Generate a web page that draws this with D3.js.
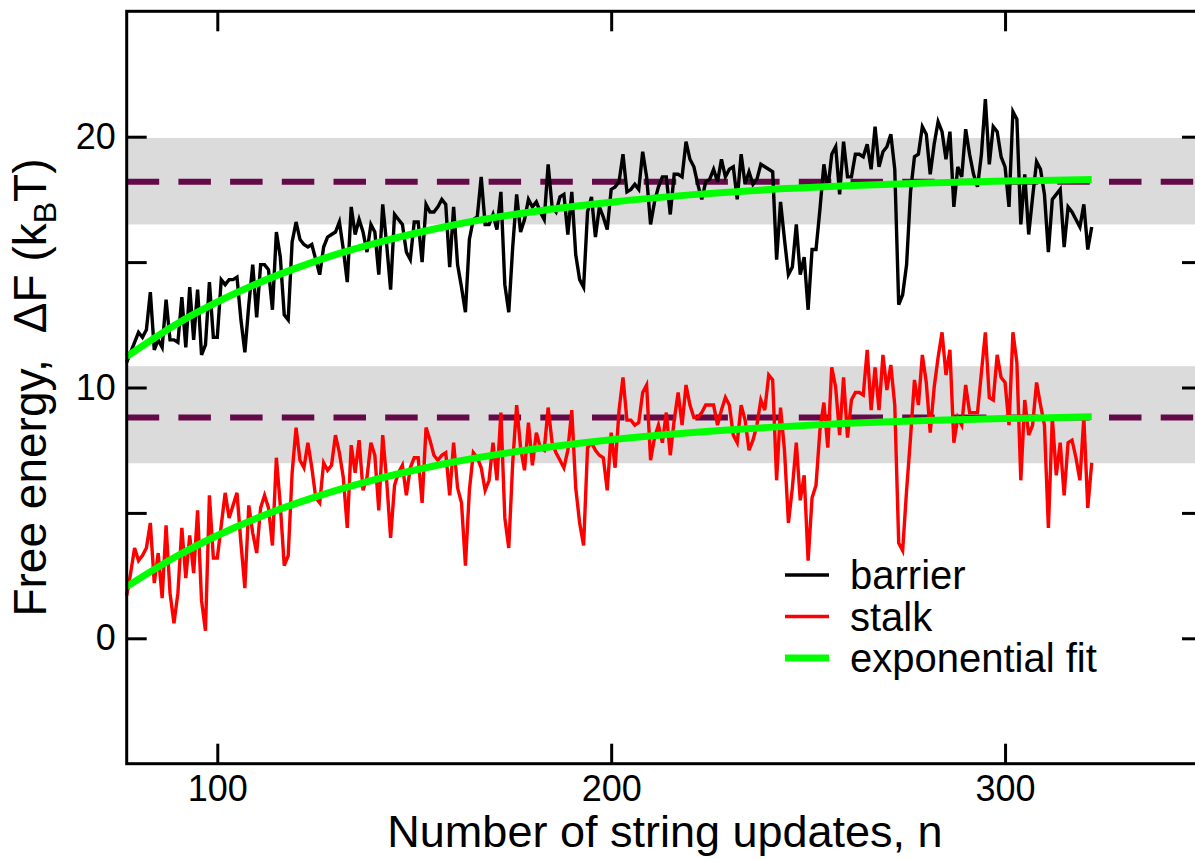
<!DOCTYPE html>
<html>
<head>
<meta charset="utf-8">
<script src="https://cdn.jsdelivr.net/npm/d3@7"></script>
<style>
  html, body { margin: 0; padding: 0; background: #fff; }
  svg { display: block; font-family: "Liberation Sans", Arial, Helvetica, sans-serif; }
</style>
</head>
<body>
<svg id="chart" width="1195" height="859"></svg>
<script>
// Free energy of the barrier and the stalk along the string-method iterations.
const firstUpdate = 77;

const barrier = [
  11.0, 11.4, 11.8, 12.2, 12.0, 12.3, 13.8, 11.5, 11.9, 11.6,
  13.5, 11.9, 11.9, 11.8, 13.6, 11.6, 14.0, 11.9, 13.9, 11.3,
  11.7, 14.2, 12.0, 12.0, 14.3, 14.1, 14.3, 14.3, 14.4, 12.7,
  11.4, 13.3, 14.9, 12.8, 14.9, 14.9, 14.7, 13.1, 16.2, 15.2,
  12.9, 12.7, 15.8, 16.6, 15.9, 15.7, 15.6, 15.7, 15.1, 14.5,
  15.6, 16.0, 16.1, 16.2, 16.6, 15.5, 14.2, 17.2, 16.1, 16.7,
  16.2, 15.4, 16.5, 16.2, 14.5, 17.3, 15.7, 13.9, 16.9, 16.7,
  16.5, 15.4, 15.1, 16.6, 16.6, 15.0, 17.3, 17.0, 17.0, 17.2,
  17.5, 17.3, 14.8, 17.2, 14.9, 14.0, 13.0, 15.9, 16.7, 16.8,
  18.4, 16.5, 16.5, 16.9, 16.3, 17.8, 14.1, 13.0, 15.6, 17.7,
  16.2, 16.7, 17.5, 17.2, 17.4, 17.0, 16.7, 18.9, 17.2, 17.0,
  17.6, 17.7, 16.1, 17.8, 15.3, 14.3, 14.0, 17.0, 17.6, 16.0,
  17.2, 16.8, 16.3, 17.9, 18.0, 18.2, 19.3, 17.8, 17.9, 18.1,
  17.9, 19.4, 18.4, 16.5, 17.4, 18.0, 18.4, 18.4, 16.9, 18.5,
  18.5, 18.4, 19.8, 19.1, 18.8, 18.1, 17.5, 18.2, 18.3, 18.7,
  18.2, 19.1, 18.4, 18.7, 18.8, 17.5, 19.3, 18.1, 18.6, 18.1,
  18.3, 18.9, 18.8, 18.7, 18.6, 15.1, 17.4, 15.9, 14.5, 14.8,
  16.5, 14.5, 15.2, 13.1, 15.5, 15.5, 17.1, 18.9, 17.9, 19.3,
  19.6, 17.7, 19.8, 18.4, 18.4, 19.3, 19.3, 19.2, 19.7, 18.7,
  20.4, 18.8, 19.4, 19.6, 20.1, 18.7, 13.3, 13.7, 14.9, 17.8,
  19.2, 19.3, 20.4, 20.1, 18.5, 19.7, 20.6, 20.2, 19.1, 20.2,
  17.2, 18.8, 18.4, 20.3, 19.3, 18.5, 18.0, 19.3, 21.5, 18.9,
  20.4, 20.2, 19.2, 18.8, 17.2, 21.0, 20.7, 16.5, 18.5, 16.1,
  17.6, 19.0, 18.7, 17.7, 15.4, 17.5, 17.7, 17.9, 15.6, 17.2,
  17.0, 16.7, 16.4, 17.3, 15.5, 16.4
];

const stalk = [
  1.7, 2.6, 3.6, 3.1, 3.3, 3.6, 4.6, 2.2, 3.4, 1.6,
  4.5, 1.8, 0.6, 1.8, 4.4, 2.4, 4.1, 2.6, 5.1, 1.5,
  0.3, 5.7, 3.2, 3.2, 4.5, 5.8, 4.8, 5.3, 5.8, 3.8,
  2.0, 5.3, 4.2, 3.4, 5.2, 5.7, 5.2, 3.7, 7.2, 5.3,
  2.9, 3.3, 6.6, 8.4, 7.1, 6.8, 7.8, 6.8, 5.6, 5.4,
  7.0, 6.7, 6.9, 8.1, 7.4, 6.4, 4.4, 7.7, 6.6, 7.9,
  5.9, 6.4, 7.8, 7.3, 5.1, 8.1, 6.3, 4.0, 6.1, 6.6,
  6.9, 5.7, 6.8, 7.2, 7.2, 5.4, 8.4, 7.9, 7.3, 7.1,
  7.3, 7.4, 5.7, 7.8, 6.0, 5.4, 2.9, 5.9, 7.4, 7.2,
  6.8, 5.9, 6.3, 7.8, 6.3, 9.0, 4.8, 3.6, 7.0, 9.3,
  7.6, 6.7, 8.6, 6.9, 8.2, 7.6, 7.5, 9.2, 7.8, 7.4,
  7.1, 6.8, 7.5, 9.1, 6.0, 4.6, 3.7, 7.6, 7.8, 7.5,
  7.3, 7.2, 5.9, 8.2, 6.8, 9.1, 10.4, 8.7, 8.7, 8.5,
  8.6, 9.8, 10.1, 7.1, 8.0, 8.5, 7.8, 9.0, 7.3, 8.7,
  9.8, 8.5, 10.1, 9.3, 8.8, 8.8, 9.0, 9.3, 9.3, 9.3,
  8.5, 9.1, 9.6, 9.3, 8.1, 7.8, 9.3, 8.7, 7.5, 7.9,
  8.5, 9.5, 9.1, 10.5, 10.3, 6.3, 9.2, 7.5, 4.6, 6.0,
  7.8, 5.5, 6.5, 3.1, 5.6, 6.1, 8.3, 9.4, 7.6, 10.8,
  10.0, 8.1, 10.4, 8.0, 9.5, 9.8, 9.8, 9.7, 11.5, 9.1,
  10.8, 9.1, 11.3, 9.9, 10.9, 9.3, 3.8, 3.5, 5.9, 8.0,
  10.3, 9.3, 11.3, 10.2, 8.2, 10.0, 11.2, 12.2, 10.5, 11.5,
  7.8, 8.8, 8.5, 10.1, 9.0, 9.0, 9.0, 10.6, 12.2, 9.6,
  9.5, 11.3, 10.4, 10.2, 8.5, 12.2, 11.0, 6.3, 9.5, 8.1,
  8.5, 10.2, 9.3, 8.5, 4.4, 8.8, 6.5, 7.8, 5.7, 7.8,
  7.9, 7.2, 6.3, 8.8, 5.2, 7.0
];

// Exponential fits, sampled along the update axis
const fitUpdates = [77, 90, 100, 110, 120, 130, 140, 150, 160, 180, 200, 220, 240, 260, 280, 300, 322];
const barrierFit = [11.23, 12.56, 13.41, 14.14, 14.76, 15.30, 15.75, 16.14, 16.48, 17.01, 17.39, 17.68, 17.89, 18.04, 18.15, 18.23, 18.29];
const stalkFit   = [2.06, 3.30, 4.10, 4.79, 5.38, 5.89, 6.33, 6.70, 7.03, 7.54, 7.92, 8.20, 8.41, 8.57, 8.68, 8.76, 8.83];

// Plateau averages with their spread (shaded bands)
const plateauMean = [18.2, 8.8];
const plateauLow  = [16.5, 6.98];
const plateauHigh = [19.95, 10.85];

const xTicks = [100, 200, 300];
const yTicks = [0, 5, 10, 15, 20];
const yTickLabels = [0, 10, 20];

const legendLabels = ["barrier", "stalk", "exponential fit"];
const legendColors = ["#000000", "#ff0000", "#00ff00"];
const legendWidths = [3.4, 3.4, 7];

(function draw() {
  const svg = d3.select("#chart");
  const plotL = 126.7, plotR = 1202, plotT = 11.3, plotB = 763.7;

  const x = d3.scaleLinear().domain([77, 350]).range([plotL, plotR]);
  const y = d3.scaleLinear().domain([-5, 25]).range([plotB, plotT]);

  const updates = d3.range(firstUpdate, firstUpdate + barrier.length);

  // shaded bands
  svg.append("g").selectAll("rect")
    .data(plateauMean.map((m, i) => ({ lo: plateauLow[i], hi: plateauHigh[i] })))
    .join("rect")
    .attr("x", plotL).attr("width", plotR - plotL)
    .attr("y", d => y(d.hi)).attr("height", d => y(d.lo) - y(d.hi))
    .attr("fill", "#dbdbdb");

  // dashed plateau averages
  svg.append("g").selectAll("line")
    .data(plateauMean)
    .join("line")
    .attr("x1", plotL).attr("x2", plotR)
    .attr("y1", d => y(d)).attr("y2", d => y(d))
    .attr("stroke", "#640a48").attr("stroke-width", 6)
    .attr("stroke-dasharray", "32.5 19.2");

  const line = d3.line().x(d => x(d[0])).y(d => y(d[1]));
  const fitLine = d3.line().x(d => x(d[0])).y(d => y(d[1])).curve(d3.curveMonotoneX);

  svg.append("path")
    .attr("d", line(updates.map((n, i) => [n, barrier[i]])))
    .attr("fill", "none").attr("stroke", "#000").attr("stroke-width", 3.4)
    .attr("stroke-linejoin", "miter").attr("stroke-miterlimit", 4);

  svg.append("path")
    .attr("d", line(updates.map((n, i) => [n, stalk[i]])))
    .attr("fill", "none").attr("stroke", "#ff0000").attr("stroke-width", 3.4)
    .attr("stroke-linejoin", "miter").attr("stroke-miterlimit", 4);

  [barrierFit, stalkFit].forEach(fit => {
    svg.append("path")
      .attr("d", fitLine(fitUpdates.map((n, i) => [n, fit[i]])))
      .attr("fill", "none").attr("stroke", "#00ff00").attr("stroke-width", 7);
  });

  // axes: ticks point inward on all four sides
  function styleAxis(g) {
    g.select(".domain").remove();
    g.selectAll(".tick line").attr("stroke", "#000").attr("stroke-width", 3);
    g.selectAll(".tick text").attr("fill", "#000").style("font-size", "36px")
      .style("font-family", "'Liberation Sans', Arial, sans-serif");
  }

  svg.append("g").attr("transform", `translate(0,${plotB})`)
    .call(d3.axisBottom(x).tickValues(xTicks).tickSizeInner(-20).tickSizeOuter(0).tickPadding(12))
    .call(styleAxis);
  svg.append("g").attr("transform", `translate(0,${plotT})`)
    .call(d3.axisTop(x).tickValues(xTicks).tickSizeInner(-20).tickSizeOuter(0).tickFormat(""))
    .call(styleAxis);
  svg.append("g").attr("transform", `translate(${plotL},0)`)
    .call(d3.axisLeft(y).tickValues(yTicks).tickSizeInner(-20).tickSizeOuter(0).tickPadding(11)
      .tickFormat(d => yTickLabels.includes(d) ? d : ""))
    .call(styleAxis);
  svg.append("g").attr("transform", `translate(${plotR},0)`)
    .call(d3.axisRight(y).tickValues(yTicks).tickSizeInner(-20).tickSizeOuter(0).tickFormat(""))
    .call(styleAxis);

  // frame
  svg.append("rect")
    .attr("x", plotL).attr("y", plotT).attr("width", plotR - plotL).attr("height", plotB - plotT)
    .attr("fill", "none").attr("stroke", "#000").attr("stroke-width", 3);

  // axis titles
  svg.append("text")
    .attr("x", 665).attr("y", 847)
    .attr("text-anchor", "middle").style("font-size", "45px")
    .text("Number of string updates, n");

  const yTitle = svg.append("text")
    .attr("transform", `translate(46,${(plotT + plotB) / 2}) rotate(-90)`)
    .attr("text-anchor", "middle").style("font-size", "46px");
  yTitle.append("tspan").text("Free energy,");
  yTitle.append("tspan").attr("dx", 26).text("ΔF (k");
  yTitle.append("tspan").attr("dy", 10).style("font-size", "32px").text("B");
  yTitle.append("tspan").attr("dy", -10).text("T)");

  // legend
  const legend = svg.append("g").selectAll("g")
    .data(legendLabels)
    .join("g")
    .attr("transform", (d, i) => `translate(785,${575 + i * 41.5})`);
  legend.append("line")
    .attr("x1", 0).attr("x2", 44).attr("y1", 0).attr("y2", 0)
    .attr("stroke", (d, i) => legendColors[i])
    .attr("stroke-width", (d, i) => legendWidths[i]);
  legend.append("text")
    .attr("x", 65).attr("y", 14)
    .style("font-size", "40px")
    .text(d => d);
})();
</script>
</body>
</html>
